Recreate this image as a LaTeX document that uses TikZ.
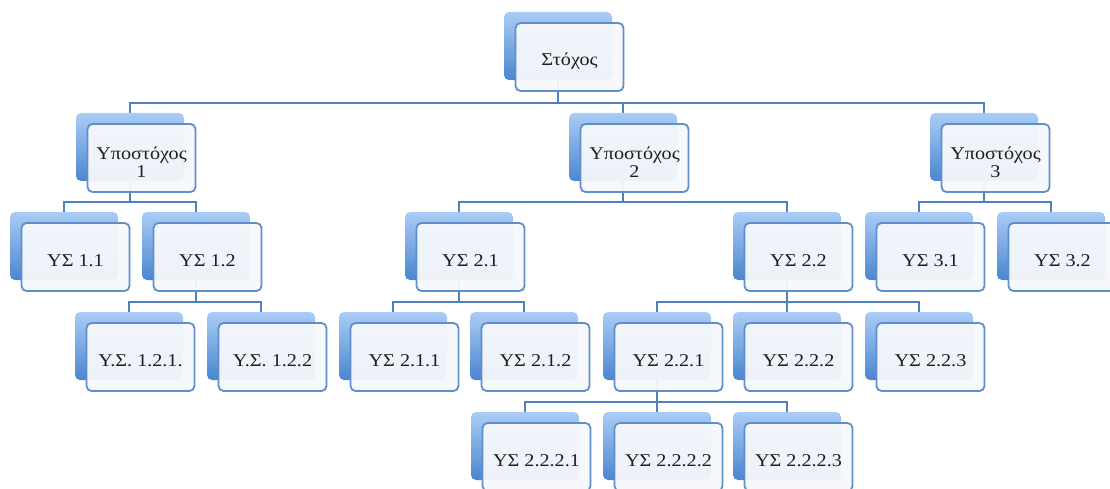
\documentclass[tikz,border=0pt]{standalone}
\usepackage{fontspec}
\setmainfont{Liberation Serif}[FakeStretch=1.12]
\usetikzlibrary{calc,backgrounds}

\definecolor{linkblue}{RGB}{79,129,189}
\definecolor{edgeblue}{RGB}{96,143,200}
\definecolor{shadetop}{RGB}{170,204,246}
\definecolor{shadebot}{RGB}{74,134,208}
\definecolor{cardfill}{RGB}{246,248,252}
\definecolor{inkgrey}{RGB}{30,30,30}

\tikzset{
  backcard/.style={rectangle, rounded corners=5pt, minimum width=108pt,
    minimum height=68pt, inner sep=0pt, top color=shadetop,
    bottom color=shadebot, draw=none},
  frontcard/.style={rectangle, rounded corners=5pt, minimum width=108pt,
    minimum height=68pt, inner sep=0pt, draw=edgeblue, line width=1.8pt,
    fill=cardfill, fill opacity=0.95},
  cardtext/.style={inner sep=0pt, text=inkgrey, align=center,
    font=\fontsize{18}{18.5}\selectfont},
  link/.style={draw=linkblue, line width=2.3pt},
}

% card: name, left x, top y, label  (coordinates in px, y downwards)
\newcommand\card[4]{%
  \node[backcard] (#1-b) at (#2+54, #3+34) {};
  \node[frontcard] (#1) at (#2+65.5, #3+45) {};
  \node[cardtext] (#1-t) at ($(#1.center)+(0,-4pt)$) {#4};
}
% orthogonal link from a parent card to a child card
\newcommand\linkto[2]{%
  \draw[link] (#1-b.center) |- ($(#2-b.north)+(0,10pt)$) -- (#2-b.north);
}

\begin{document}
\begin{tikzpicture}[x=1pt, y=-1pt]
\useasboundingbox (0,0) rectangle (1110,489);

\card{root}{504}{12}{Στόχος}

\card{s1}{76}{113}{Υποστόχος\\1}
\card{s2}{569}{113}{Υποστόχος\\2}
\card{s3}{930}{113}{Υποστόχος\\3}

\card{s11}{10}{212}{ΥΣ 1.1}
\card{s12}{142}{212}{ΥΣ 1.2}
\card{s21}{405}{212}{ΥΣ 2.1}
\card{s22}{733}{212}{ΥΣ 2.2}
\card{s31}{865}{212}{ΥΣ 3.1}
\card{s32}{997}{212}{ΥΣ 3.2}

\card{s121}{75}{312}{Υ.Σ. 1.2.1.}
\card{s122}{207}{312}{Υ.Σ. 1.2.2}
\card{s211}{339}{312}{ΥΣ 2.1.1}
\card{s212}{470}{312}{ΥΣ 2.1.2}
\card{s221}{603}{312}{ΥΣ 2.2.1}
\card{s222}{733}{312}{ΥΣ 2.2.2}
\card{s223}{865}{312}{ΥΣ 2.2.3}

\card{s2221}{471}{412}{ΥΣ 2.2.2.1}
\card{s2222}{603}{412}{ΥΣ 2.2.2.2}
\card{s2223}{733}{412}{ΥΣ 2.2.2.3}

\begin{pgfonlayer}{background}
  \linkto{root}{s1}
  \linkto{root}{s2}
  \linkto{root}{s3}
  \linkto{s1}{s11}
  \linkto{s1}{s12}
  \linkto{s2}{s21}
  \linkto{s2}{s22}
  \linkto{s3}{s31}
  \linkto{s3}{s32}
  \linkto{s12}{s121}
  \linkto{s12}{s122}
  \linkto{s21}{s211}
  \linkto{s21}{s212}
  \linkto{s22}{s221}
  \linkto{s22}{s222}
  \linkto{s22}{s223}
  \linkto{s221}{s2221}
  \linkto{s221}{s2222}
  \linkto{s221}{s2223}
\end{pgfonlayer}
\end{tikzpicture}
\end{document}
